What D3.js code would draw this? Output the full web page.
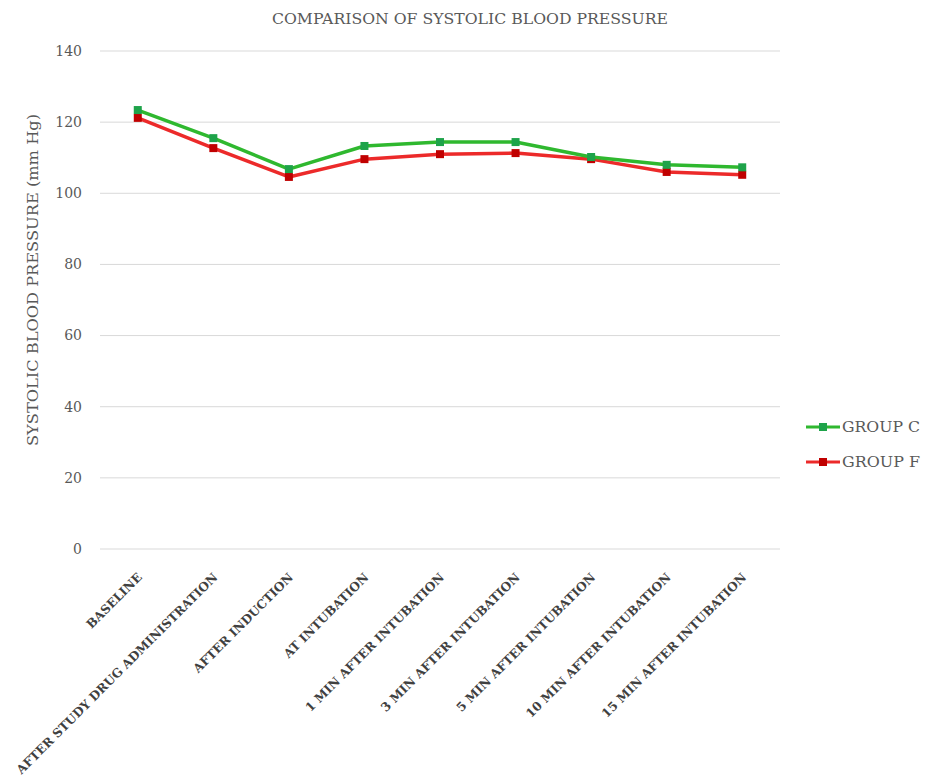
<!DOCTYPE html>
<html><head><meta charset="utf-8">
<script src="https://cdn.jsdelivr.net/npm/d3@7"></script>
<style>body{margin:0;background:#fff}</style>
</head><body>
<svg id="c" width="926" height="781"></svg>
<script>
const categories = ["BASELINE","AFTER STUDY DRUG ADMINISTRATION","AFTER INDUCTION","AT INTUBATION","1 MIN AFTER INTUBATION","3 MIN AFTER INTUBATION","5 MIN AFTER INTUBATION","10 MIN AFTER INTUBATION","15 MIN AFTER INTUBATION"];
const groupC = [123.4,115.5,106.8,113.3,114.4,114.4,110.2,108.0,107.3];
const groupF = [121.2,112.7,104.6,109.6,111.0,111.3,109.6,106.0,105.2];
const yTicks = [0,20,40,60,80,100,120,140];
const seriesNames = ["GROUP C","GROUP F"];

const svg = d3.select("#c");
const font = "'DejaVu Serif', 'Liberation Serif', serif";
const L=100,R=780,T=51,B=549;
const x = d3.scaleBand().domain(categories).range([L,R]).padding(0);
const y = d3.scaleLinear().domain([0,140]).range([B,T]);

svg.append("g").selectAll("line").data(yTicks).join("line")
  .attr("x1",L).attr("x2",R).attr("y1",d=>y(d)).attr("y2",d=>y(d))
  .attr("stroke","#d9d9d9").attr("stroke-width",1);
svg.append("g").selectAll("text").data(yTicks).join("text")
  .attr("x",82).attr("y",d=>y(d)).attr("dy","0.35em").attr("text-anchor","end")
  .attr("font-family",font).attr("font-size",14).attr("fill","#595959").text(d=>d);

svg.append("text").attr("x",470).attr("y",24).attr("text-anchor","middle")
  .attr("font-family",font).attr("font-size",14).attr("fill","#595959")
  .attr("textLength",396).attr("lengthAdjust","spacingAndGlyphs")
  .text("COMPARISON OF SYSTOLIC BLOOD PRESSURE");
svg.append("text").attr("transform","translate(38,280) rotate(-90)").attr("text-anchor","middle")
  .attr("font-family",font).attr("font-size",15).attr("fill","#595959")
  .attr("textLength",332).attr("lengthAdjust","spacingAndGlyphs")
  .text("SYSTOLIC BLOOD PRESSURE (mm Hg)");

svg.append("g").selectAll("text").data(categories).join("text")
  .attr("transform",d=>`translate(${x(d)+x.bandwidth()/2+5},578) rotate(-45)`)
  .attr("text-anchor","end").attr("font-family",font).attr("font-size",12.2)
  .attr("font-weight","bold").attr("fill","#404040").text(d=>d);

const series = [
  {name:seriesNames[0], vals:groupC, line:"#2fb82f", mark:"#1ea34a"},
  {name:seriesNames[1], vals:groupF, line:"#ec2a2a", mark:"#c00000"}
];
const lineGen = d3.line().x((d,i)=>x(categories[i])+x.bandwidth()/2).y(d=>y(d));
[series[1],series[0]].forEach(s=>{
  svg.append("path").datum(s.vals).attr("d",lineGen).attr("fill","none")
    .attr("stroke",s.line).attr("stroke-width",3.5).attr("stroke-linejoin","round");
  svg.append("g").selectAll("rect").data(s.vals).join("rect")
    .attr("x",(d,i)=>x(categories[i])+x.bandwidth()/2-4).attr("y",d=>y(d)-4)
    .attr("width",8).attr("height",8).attr("fill",s.mark);
});

const lg = svg.append("g");
series.forEach((s,i)=>{
  const yy = 427 + i*35;
  lg.append("line").attr("x1",806).attr("x2",840).attr("y1",yy).attr("y2",yy)
    .attr("stroke",s.line).attr("stroke-width",3);
  lg.append("rect").attr("x",819).attr("y",yy-4).attr("width",8).attr("height",8).attr("fill",s.mark);
  lg.append("text").attr("x",842).attr("y",yy).attr("dy","0.35em")
    .attr("font-family",font).attr("font-size",14).attr("fill","#595959")
    .attr("textLength",78).attr("lengthAdjust","spacingAndGlyphs").text(s.name);
});
</script>
</body></html>
